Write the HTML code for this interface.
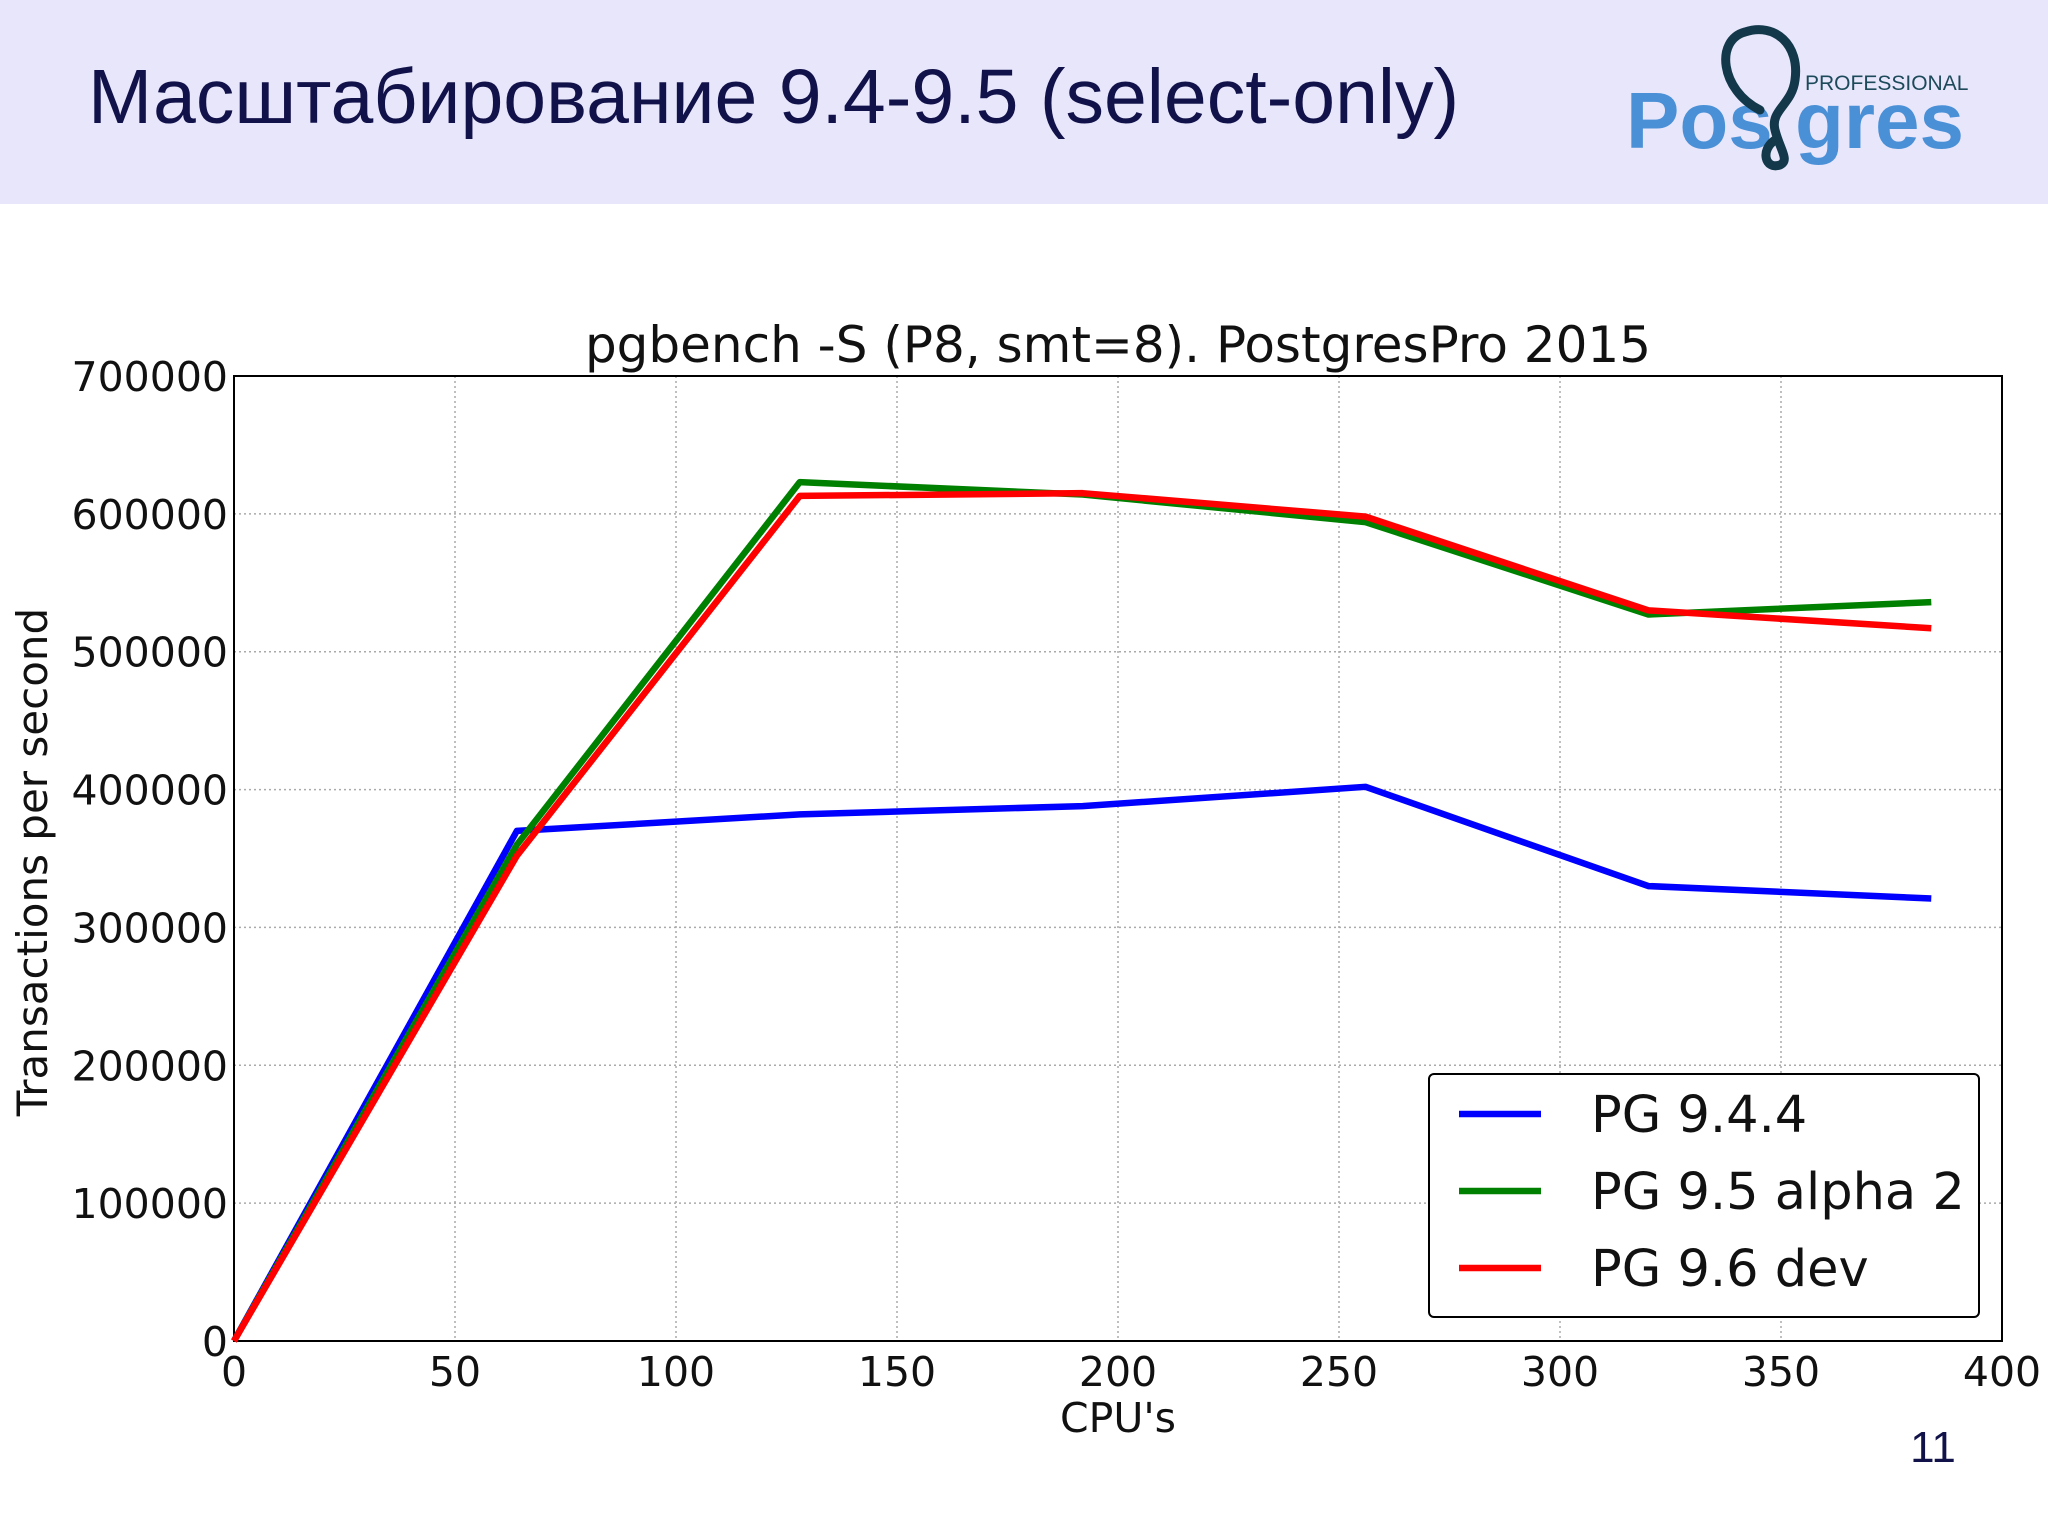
<!DOCTYPE html>
<html><head><meta charset="utf-8"><style>
body{margin:0;width:2048px;height:1535px;background:#fff;overflow:hidden;font-family:"Liberation Sans",sans-serif}
#hdr{position:absolute;left:0;top:0;width:2048px;height:204px;background:#e8e6fb}
#ttl{position:absolute;left:88px;top:53px;font-size:77px;color:#12124a;white-space:nowrap}
</style></head><body>
<div id="hdr"></div>
<div id="ttl">Масштабирование 9.4-9.5 (select-only)</div>
<svg width="2048" height="1535" style="position:absolute;left:0;top:0">
<g>
<text x="1626" y="148" font-family="Liberation Sans" font-weight="bold" font-size="80" fill="#4a90d6" textLength="338" lengthAdjust="spacingAndGlyphs">Pos gres</text>
<text x="1805" y="90" font-family="Liberation Sans" font-size="21" fill="#1d4a5a">PROFESSIONAL</text>
<path d="M1760 110 C1720 90 1715 40 1745 32 C1775 22 1800 45 1795 80 C1792 105 1770 110 1775 130 C1780 150 1790 160 1780 165 C1765 170 1760 150 1775 140" fill="none" stroke="#12384a" stroke-width="9" stroke-linecap="round"/>
</g>
<g id="chart"></g>
<text x="1933" y="1462" font-family="Liberation Sans" font-size="44" fill="#12124a" text-anchor="middle">11</text>
</svg>
<script>
const xs=[0,64,128,192,256,320,384];
const blue=[0,370000,382000,388000,402000,330000,321000];
const green=[0,360000,623000,614000,594000,527000,536000];
const red=[0,352000,613000,615000,598000,530000,517000];
const xTicks=[0,50,100,150,200,250,300,350,400];
const yTicks=[0,100000,200000,300000,400000,500000,600000,700000];
const names=["PG 9.4.4","PG 9.5 alpha 2","PG 9.6 dev"];
const L=234,R=2002,T=376,B=1341;
const X=v=>L+(R-L)*v/400, Y=v=>B-(B-T)*v/700000;
const NS="http://www.w3.org/2000/svg",g=document.getElementById('chart');
function mk(t,a,txt){const e=document.createElementNS(NS,t);for(const k in a)e.setAttribute(k,a[k]);if(txt!=null)e.textContent=txt;g.appendChild(e);return e;}
const F='"DejaVu Sans",sans-serif';
xTicks.forEach(v=>{
 const l=mk('line',{x1:X(v),x2:X(v),y1:T,y2:B,stroke:'#aaa','stroke-width':1.5,'stroke-dasharray':'2,3'});
 
 
 const t=mk('text',{x:X(v),y:B+45,'font-family':F,'font-size':41,'text-anchor':'middle',fill:'#111'},v);
 
 
});
yTicks.forEach(v=>{
 const l=mk('line',{x1:L,x2:R,y1:Y(v),y2:Y(v),stroke:'#aaa','stroke-width':1.5,'stroke-dasharray':'2,3'});
 
 
 const t=mk('text',{x:L-6,y:Y(v)+15,'font-family':F,'font-size':41,'text-anchor':'end',fill:'#111'},v);
 
 
});
const fr=mk('rect',{x:L,y:T,width:R-L,height:B-T,fill:'none',stroke:'#000','stroke-width':2});


const ct=mk('text',{x:(L+R)/2,y:362,'font-family':F,'font-size':50,'text-anchor':'middle',fill:'#111'},'pgbench -S (P8, smt=8). PostgresPro 2015');


const xl=mk('text',{x:1118,y:1432,'font-family':F,'font-size':41,'text-anchor':'middle',fill:'#111'},"CPU's");


const yl=mk('text',{x:0,y:0,transform:'translate(47,862) rotate(-90)','font-family':F,'font-size':42,'text-anchor':'middle',fill:'#111'},'Transactions per second');


const series=[[blue,'#0000ff'],[green,'#008000'],[red,'#ff0000']];
series.forEach(([d,c],i)=>{
 const p=mk('polyline',{points:d.map((v,j)=>X(xs[j])+','+Y(v)).join(' '),fill:'none',stroke:c,'stroke-width':6.5,'stroke-linejoin':'round'});
 
 
});
const lb=mk('rect',{x:1429,y:1074,width:550,height:243,rx:5,fill:'#fff',stroke:'#000','stroke-width':2});


series.forEach(([d,c],i)=>{
 const y=1114+i*77;
 const l=mk('line',{x1:1459,x2:1541,y1:y,y2:y,stroke:c,'stroke-width':6.5});
 
 
 const t=mk('text',{x:1591,y:y+18,'font-family':F,'font-size':51,fill:'#111'},names[i]);
 
 
});
</script>
</body></html>
